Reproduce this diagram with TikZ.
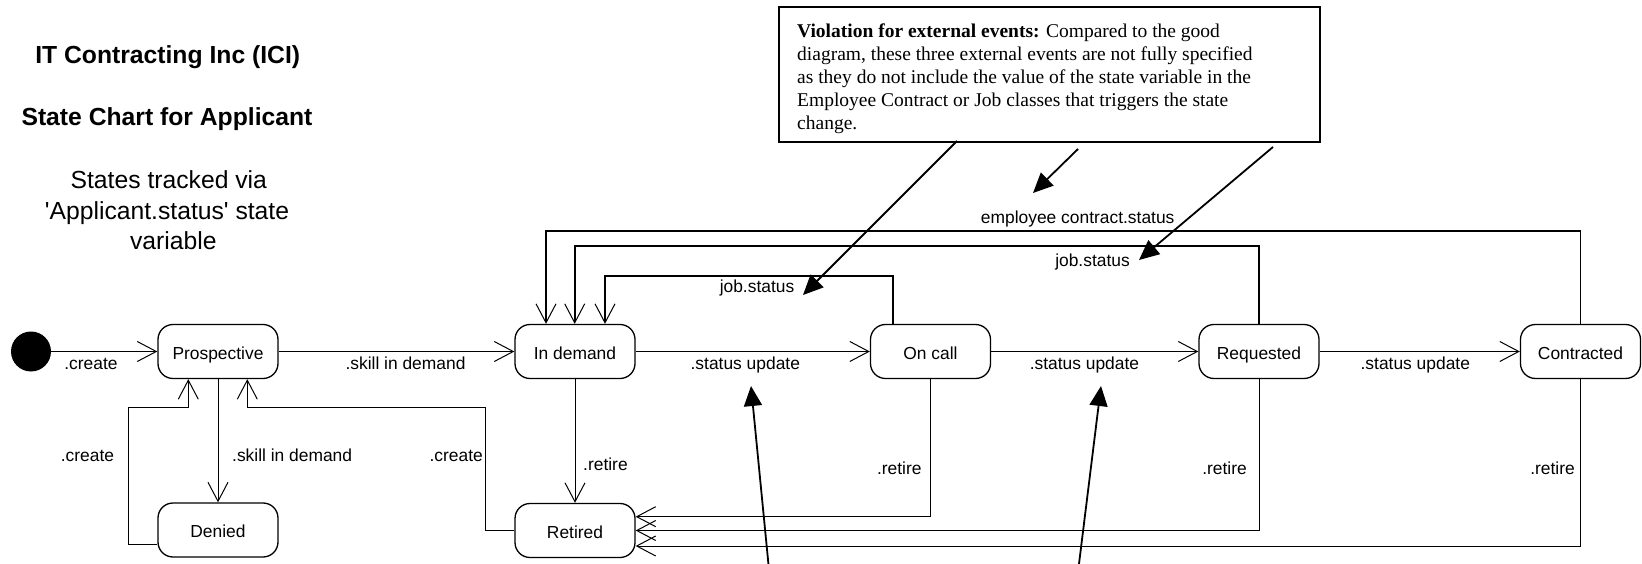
\documentclass[tikz,border=0pt]{standalone}
\usepackage{fontspec}
\setmainfont{Liberation Sans}
\newfontfamily\notefont{Liberation Serif}
\usetikzlibrary{arrows.meta}

\begin{document}
\begin{tikzpicture}[x=1pt,y=-1pt,
  state/.style={draw, line width=1.3pt, rounded corners=15pt,
    minimum width=120pt, minimum height=54pt, inner sep=0pt,
    text height=15pt, text depth=0pt,
    font=\fontsize{17.4}{20}\selectfont},
  tr/.style={draw, line width=1pt,
    -{Straight Barb[length=19pt,width=20pt,line width=1pt]}},
  backedge/.style={tr, line width=1.8pt},
  lbl/.style={anchor=base, inner sep=0pt, font=\fontsize{17.4}{20}\selectfont},
  ttl/.style={anchor=base, inner sep=0pt, font=\bfseries\fontsize{24.7}{30}\selectfont},
  sub/.style={anchor=base, inner sep=0pt, font=\fontsize{24.7}{30}\selectfont},
  ann/.style={draw, line width=1.8pt, -{Triangle[length=20pt,width=18pt]}}
]
\useasboundingbox (0,0) rectangle (1642,564);

% headings
\node[ttl] (title) at (167.7,63.3) {IT Contracting Inc (ICI)};
\node[ttl] (chart) at (167,126) {State Chart for Applicant};
\node[sub] (trk1) at (168.8,188.3) {States tracked via};
\node[sub] (trk2) at (167,220) {\textquotesingle Applicant.status\textquotesingle{} state};
\node[sub] (trk3) at (173.3,250) {variable};

% states
\node[circle, fill=black, minimum size=40pt, inner sep=0pt] (init) at (31,351.5) {};
\node[state] (pro) at (218,351.5) {Prospective};
\node[state] (dem) at (575,351.5) {In demand};
\node[state] (onc) at (930.5,351.5) {On call};
\node[state] (req) at (1259,351.5) {Requested};
\node[state] (con) at (1580.5,351.5) {Contracted};
\node[state] (den) at (218,530) {Denied};
\node[state] (ret) at (575,530.5) {Retired};

% main line of transitions
\draw[tr] (init.east) -- (pro.west);
\draw[tr] (pro.east) -- (dem.west);
\draw[tr] (dem.east) -- (onc.west);
\draw[tr] (onc.east) -- (req.west);
\draw[tr] (req.east) -- (con.west);
\node[lbl] (lcreate) at (91,369) {.create};
\node[lbl] (lskill) at (405.5,369) {.skill in demand};
\node[lbl] (lupd1) at (745.3,369) {.status update};
\node[lbl] (lupd2) at (1084.4,369) {.status update};
\node[lbl] (lupd3) at (1415.3,369) {.status update};

% prospective / denied
\draw[tr] (pro.south) -- (den.north);
\node[lbl, anchor=base west] (lskill2) at (232,461.7) {.skill in demand};
\coordinate (dl1) at (128.7,544);
\coordinate (dl2) at (188.3,407.7);
\draw[tr] (den.west |- dl1) -- (dl1) |- (dl2) -- (dl2 |- pro.south);
\node[lbl] (lcreate2) at (87.5,461.7) {.create};
\coordinate (rl1) at (485,530.5);
\coordinate (rl2) at (247.3,407.7);
\draw[tr] (ret.west) -- (rl1) |- (rl2) -- (rl2 |- pro.south);
\node[lbl, anchor=base east] (lcreate3) at (483,461.7) {.create};

% retirement
\draw[tr] (dem.south) -- (ret.north);
\node[lbl, anchor=base west] (lret1) at (583,470.7) {.retire};
\coordinate (r1) at (0,516.7);
\coordinate (r3) at (0,546);
\draw[tr] (onc.south) |- (r1 -| ret.east);
\draw[tr] (req.south) |- (ret.east);
\draw[tr] (con.south) |- (r3 -| ret.east);
\node[lbl, anchor=base east] (lret2) at (921.7,474) {.retire};
\node[lbl, anchor=base east] (lret3) at (1247,474) {.retire};
\node[lbl, anchor=base east] (lret4) at (1575,474) {.retire};

% external events back to In demand
\coordinate (u1) at (546,230.7);
\coordinate (u2) at (574.7,246);
\coordinate (u3a) at (893.3,276);
\coordinate (u3) at (605,276);
\draw[backedge] (con.north) |- (u1) -- (u1 |- dem.north);
\draw[backedge] (req.north) |- (u2) -- (u2 |- dem.north);
\draw[backedge] (u3a |- onc.north) -- (u3a) -- (u3) -- (u3 |- dem.north);
\node[lbl] (lemp) at (1077.7,223.3) {employee contract.status};
\node[lbl] (ljob2) at (1092.5,267) {job.status};
\node[lbl] (ljob1) at (757,293) {job.status};

% annotation
\node[draw, line width=1.8pt, minimum width=541pt, minimum height=135pt,
  inner sep=0pt, anchor=north west] (note) at (778,6) {};
\node[anchor=north west, align=left, inner sep=0pt,
  font=\notefont\fontsize{19.5}{23}\selectfont] (notetext) at (797,24)
  {\textbf{Violation for external events:} Compared to the good\\
   diagram, these three external events are not fully specified\\
   as they do not include the value of the state variable in the\\
   Employee Contract or Job classes that triggers the state\\
   change.};
\coordinate (a1s) at (957,141);
\coordinate (a1e) at (803,295);
\coordinate (a2s) at (1078,149);
\coordinate (a2e) at (1033,193);
\coordinate (a3s) at (1273,147);
\coordinate (a3e) at (1139,260);
\coordinate (a4s) at (770,580);
\coordinate (a4e) at (751,386);
\coordinate (a5s) at (1077,580);
\coordinate (a5e) at (1101,386);
\draw[ann] (a1s) -- (a1e);
\draw[ann] (a2s) -- (a2e);
\draw[ann] (a3s) -- (a3e);
\draw[ann] (a4s) -- (a4e);
\draw[ann] (a5s) -- (a5e);
\end{tikzpicture}
\end{document}
